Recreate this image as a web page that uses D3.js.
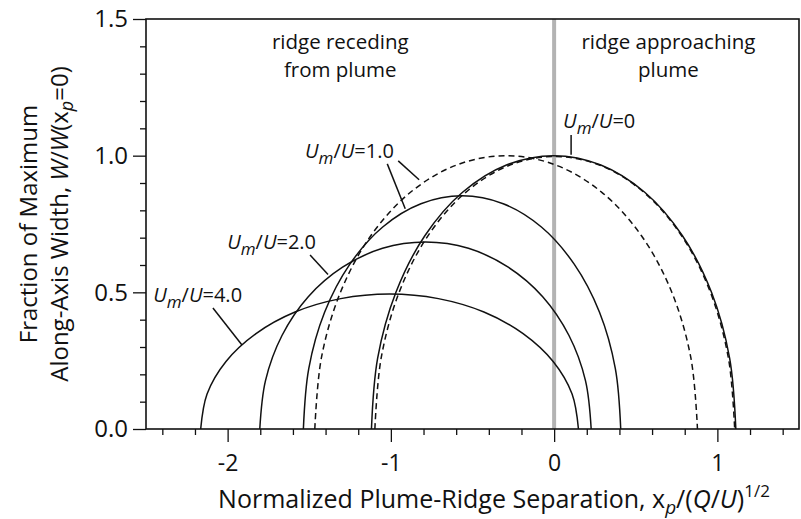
<!DOCTYPE html>
<html>
<head>
<meta charset="utf-8">
<script src="https://cdn.jsdelivr.net/npm/d3@7"></script>
<style>
  html, body { margin: 0; padding: 0; background: #fff; }
  svg { display: block; }
  text { font-family: "Open Sans", "Noto Sans", sans-serif; fill: #111; }
</style>
</head>
<body>
<svg id="chart" width="801" height="519"></svg>
<script>
// ---------------- data ----------------
const xMajorTicks = [-2, -1, 0, 1];
const xMinorTicks = [-2.4, -2.2, -1.8, -1.6, -1.4, -1.2, -0.8, -0.6, -0.4, -0.2, 0.2, 0.4, 0.6, 0.8, 1.2, 1.4];
const yMajorTicks = [0, 0.5, 1.0, 1.5];
const yMinorTicks = [0.1, 0.2, 0.3, 0.4, 0.6, 0.7, 0.8, 0.9, 1.1, 1.2, 1.3, 1.4];
const xTickLabels = ["-2", "-1", "0", "1"];
const yTickLabels = ["0.0", "0.5", "1.0", "1.5"];

// curves: [x_p/(Q/U)^1/2, W/W(x_p=0)]
const u4Solid = [[-2.165,0],[-2.126,0.128],[-2.010,0.247],[-1.826,0.349],[-1.587,0.428],[-1.307,0.477],[-1.008,0.494],[-0.709,0.477],[-0.430,0.428],[-0.190,0.349],[-0.006,0.247],[0.110,0.128],[0.149,0]];
const u2Solid = [[-1.803,0],[-1.768,0.177],[-1.667,0.342],[-1.506,0.484],[-1.296,0.592],[-1.051,0.661],[-0.788,0.684],[-0.525,0.661],[-0.281,0.592],[-0.070,0.484],[0.091,0.342],[0.192,0.177],[0.227,0]];
const u1Solid = [[-1.536,0],[-1.503,0.221],[-1.406,0.427],[-1.251,0.603],[-1.050,0.739],[-0.816,0.824],[-0.564,0.853],[-0.312,0.824],[-0.078,0.739],[0.123,0.603],[0.278,0.427],[0.375,0.221],[0.408,0]];
const u0Solid = [[-1.119,0],[-1.081,0.259],[-0.969,0.500],[-0.792,0.707],[-0.561,0.866],[-0.292,0.966],[-0.003,1.000],[0.286,0.966],[0.555,0.866],[0.786,0.707],[0.964,0.500],[1.075,0.259],[1.113,0]];
const u1Dashed = [[-1.466,0],[-1.426,0.259],[-1.309,0.500],[-1.123,0.707],[-0.880,0.866],[-0.597,0.966],[-0.294,1.000],[0.009,0.966],[0.292,0.866],[0.535,0.707],[0.721,0.500],[0.838,0.259],[0.878,0]];
const u0Dashed = [[-1.098,0],[-1.060,0.258],[-0.950,0.499],[-0.775,0.705],[-0.547,0.863],[-0.281,0.963],[0.004,0.997],[0.289,0.963],[0.555,0.863],[0.783,0.705],[0.958,0.499],[1.068,0.258],[1.106,0]];

// curve labels (value text, anchor in data units) and pointer segments
const curveLabels = [
  { value: "4.0", x: -2.456, w: 0.465 },
  { value: "2.0", x: -2.003, w: 0.659 },
  { value: "1.0", x: -1.526, w: 0.991 },
  { value: "0",   x: 0.055,  w: 1.101 }
];
const pointers = [
  [[-2.090, 0.443], [-1.912, 0.307]],
  [[-1.495, 0.637], [-1.385, 0.565]],
  [[-1.022, 0.970], [-0.912, 0.806]],
  [[-0.955, 0.981], [-0.827, 0.912]],
  [[0.104, 1.076], [0.104, 1.003]]
];
const regionLabels = [
  { lines: ["ridge receding", "from plume"], x: -1.31 },
  { lines: ["ridge approaching", "plume"], x: 0.70 }
];

// ---------------- layout ----------------
const svg = d3.select("#chart");
const mLeft = 146, mRight = 799, mTop = 19, mBottom = 429;
const x = d3.scaleLinear().domain([-2.5, 1.5]).range([mLeft, mRight]);
const y = d3.scaleLinear().domain([0, 1.5]).range([mBottom, mTop]);

// gray separator at x = 0
svg.append("line")
  .attr("x1", x(0)).attr("x2", x(0))
  .attr("y1", y(1.5)).attr("y2", y(0))
  .attr("stroke", "#b3b3b3").attr("stroke-width", 4);

// axes
const gx = svg.append("g").attr("transform", `translate(0,${mBottom})`);
gx.append("g").call(d3.axisBottom(x).tickValues(xMinorTicks).tickSize(6).tickFormat(""));
gx.append("g").call(d3.axisBottom(x).tickValues(xMajorTicks).tickSize(13)
  .tickFormat((d, i) => xTickLabels[i]).tickPadding(13));
const gy = svg.append("g").attr("transform", `translate(${mLeft},0)`);
gy.append("g").call(d3.axisLeft(y).tickValues(yMinorTicks).tickSize(6).tickFormat(""));
gy.append("g").call(d3.axisLeft(y).tickValues(yMajorTicks).tickSize(13)
  .tickFormat((d, i) => yTickLabels[i]).tickPadding(5));
svg.selectAll(".domain").remove();
svg.selectAll(".tick line").attr("stroke", "#111").attr("stroke-width", 1.3);
svg.selectAll(".tick text").attr("font-family", '"Open Sans", sans-serif').attr("fill", "#111");
gy.selectAll(".tick text").attr("font-size", 24);
gx.selectAll(".tick text").attr("font-size", 23);

// frame
svg.append("rect")
  .attr("x", mLeft).attr("y", mTop).attr("width", mRight - mLeft).attr("height", mBottom - mTop)
  .attr("fill", "none").attr("stroke", "#111").attr("stroke-width", 1.6);

// curves
const line = d3.line().x(d => x(d[0])).y(d => y(d[1])).curve(d3.curveCatmullRom.alpha(0.5));
const curves = [
  { data: u4Solid, dash: null },
  { data: u2Solid, dash: null },
  { data: u1Solid, dash: null },
  { data: u0Solid, dash: null },
  { data: u1Dashed, dash: "6,4" },
  { data: u0Dashed, dash: "6,4" }
];
svg.append("g").selectAll("path").data(curves).join("path")
  .attr("d", d => line(d.data))
  .attr("fill", "none").attr("stroke", "#111").attr("stroke-width", 1.5)
  .attr("stroke-dasharray", d => d.dash);

// pointers
svg.append("g").selectAll("line").data(pointers).join("line")
  .attr("x1", d => x(d[0][0])).attr("y1", d => y(d[0][1]))
  .attr("x2", d => x(d[1][0])).attr("y2", d => y(d[1][1]))
  .attr("stroke", "#111").attr("stroke-width", 1.5);

// curve labels  U_m/U=...
const lab = svg.append("g").selectAll("text").data(curveLabels).join("text")
  .attr("x", d => x(d.x)).attr("y", d => y(d.w)).attr("font-size", 20);
lab.append("tspan").attr("font-style", "italic").text("U");
lab.append("tspan").attr("font-style", "italic").attr("font-size", 17).attr("dy", 6).text("m");
lab.append("tspan").attr("dy", -6).text("/");
lab.append("tspan").attr("font-style", "italic").text("U");
lab.append("tspan").text(d => "=" + d.value);

// region labels
regionLabels.forEach(r => {
  const t = svg.append("text").attr("text-anchor", "middle").attr("font-size", 20.5);
  r.lines.forEach((s, i) => {
    t.append("tspan").attr("x", x(r.x)).attr("y", 49 + i * 28).text(s);
  });
});

// y title
const yt = svg.append("g").attr("transform", `translate(37,${(mTop + mBottom) / 2}) rotate(-90)`);
yt.append("text").attr("text-anchor", "middle").attr("font-size", 24).attr("y", 0).text("Fraction of Maximum");
const yt2 = yt.append("text").attr("text-anchor", "middle").attr("font-size", 24).attr("y", 31);
yt2.append("tspan").text("Along-Axis Width, ");
yt2.append("tspan").attr("font-style", "italic").text("W");
yt2.append("tspan").text("/");
yt2.append("tspan").attr("font-style", "italic").text("W");
yt2.append("tspan").text("(x");
yt2.append("tspan").attr("font-style", "italic").attr("font-size", 18).attr("dy", 5).text("p");
yt2.append("tspan").attr("dy", -5).text("=0)");

// x title
const xt = svg.append("text").attr("text-anchor", "middle").attr("font-size", 25)
  .attr("x", 494).attr("y", 508);
xt.append("tspan").text("Normalized Plume-Ridge Separation, x");
xt.append("tspan").attr("font-style", "italic").attr("font-size", 19).attr("dy", 6).text("p");
xt.append("tspan").attr("dy", -6).text("/(");
xt.append("tspan").attr("font-style", "italic").text("Q");
xt.append("tspan").text("/");
xt.append("tspan").attr("font-style", "italic").text("U");
xt.append("tspan").text(")");
xt.append("tspan").attr("font-size", 17).attr("dy", -11).text("1/2");
</script>
</body>
</html>
